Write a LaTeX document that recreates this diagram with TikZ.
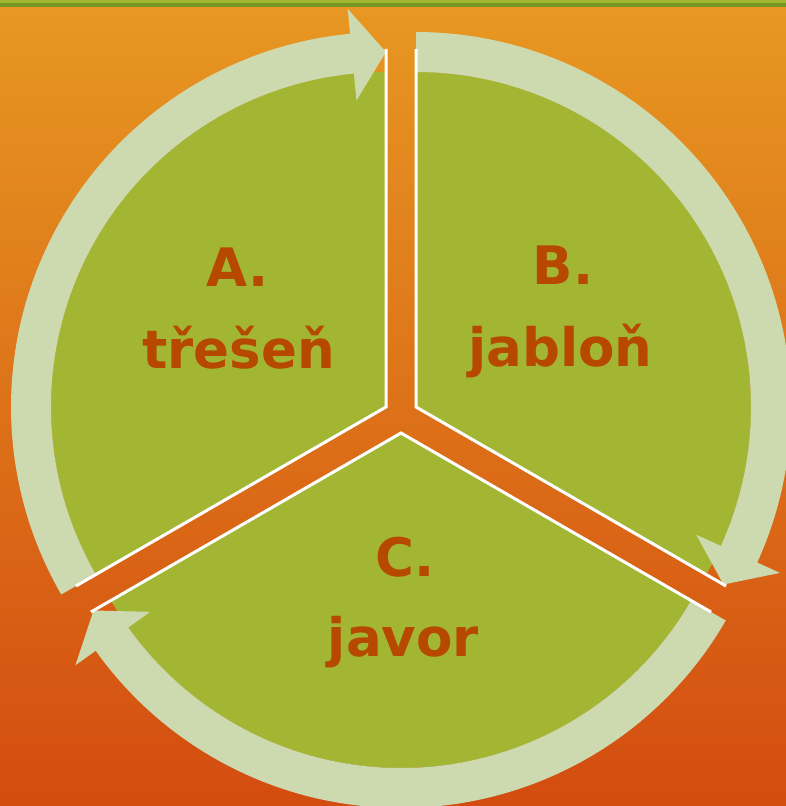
\documentclass[tikz,border=0pt]{standalone}
\usepackage{fontspec}
\setmainfont{DejaVu Sans}
\definecolor{leaf}{RGB}{163,182,52}
\definecolor{pale}{RGB}{205,217,175}
\definecolor{rust}{RGB}{182,72,0}
\definecolor{bgtop}{RGB}{231,152,34}
\definecolor{bgbottom}{RGB}{211,76,16}
\definecolor{barlight}{RGB}{163,182,52}
\definecolor{bardark}{RGB}{118,150,38}

\begin{document}
\begin{tikzpicture}[x=1pt, y=1pt,
	sector/.style={fill=leaf},
	ring/.style={fill=pale},
	rim/.style={draw=white, line width=3pt, line join=miter},
	word/.style={text=rust, font=\fontsize{53}{64}\selectfont\bfseries, anchor=base, inner sep=0pt}]
	\useasboundingbox (0,0) rectangle (786,806);
	\clip (0,0) rectangle (786,806);
	\shade[top color=bgtop, bottom color=bgbottom] (0,0) rectangle (786,806);
	\fill[bardark] (0,799) rectangle (786,803);
	\fill[barlight] (0,803) rectangle (786,806);

	\coordinate (L) at (386,399);
	\coordinate (R) at (416,399);
	\coordinate (B) at (401,373);

	\fill[sector] (L) -- ([shift={(L)}]90:335) arc[start angle=90, end angle=210, radius=335] -- cycle;
	\fill[sector] (R) -- ([shift={(R)}]-30:335) arc[start angle=-30, end angle=90, radius=335] -- cycle;
	\fill[sector] (B) -- ([shift={(B)}]210:335) arc[start angle=210, end angle=330, radius=335] -- cycle;

	\fill[ring] ([shift={(L)}]210:335) arc[start angle=210, end angle=95.5, radius=335]
		-- ([shift={(L)}]95.5:308) -- ([shift={(L)}]90:355) -- ([shift={(L)}]95.5:400)
		-- ([shift={(L)}]95.5:375) arc[start angle=95.5, end angle=210, radius=375] -- cycle;
	\fill[ring] ([shift={(R)}]90:335) arc[start angle=90, end angle=-24.5, radius=335]
		-- ([shift={(R)}]-24.5:308) -- ([shift={(R)}]-30:355) -- ([shift={(R)}]-24.5:400)
		-- ([shift={(R)}]-24.5:375) arc[start angle=-24.5, end angle=90, radius=375] -- cycle;
	\fill[ring] ([shift={(B)}]330:335) arc[start angle=330, end angle=215.5, radius=335]
		-- ([shift={(B)}]215.5:308) -- ([shift={(B)}]210:355) -- ([shift={(B)}]215.5:400)
		-- ([shift={(B)}]215.5:375) arc[start angle=215.5, end angle=330, radius=375] -- cycle;

	\draw[rim] ([shift={(L)}]90:358) -- (L) -- ([shift={(L)}]210:358);
	\draw[rim] ([shift={(R)}]90:358) -- (R) -- ([shift={(R)}]-30:358);
	\draw[rim] ([shift={(B)}]210:358) -- (B) -- ([shift={(B)}]330:358);

	\node[word] (a) at (238,519) {A.};
	\node[word] (a-name) at (238.5,437) {třešeň};
	\node[word] (b) at (563,521) {B.};
	\node[word] (b-name) at (560.5,439) {jabloň};
	\node[word] (c) at (405,229) {C.};
	\node[word] (c-name) at (403.5,149) {javor};
\end{tikzpicture}
\end{document}
